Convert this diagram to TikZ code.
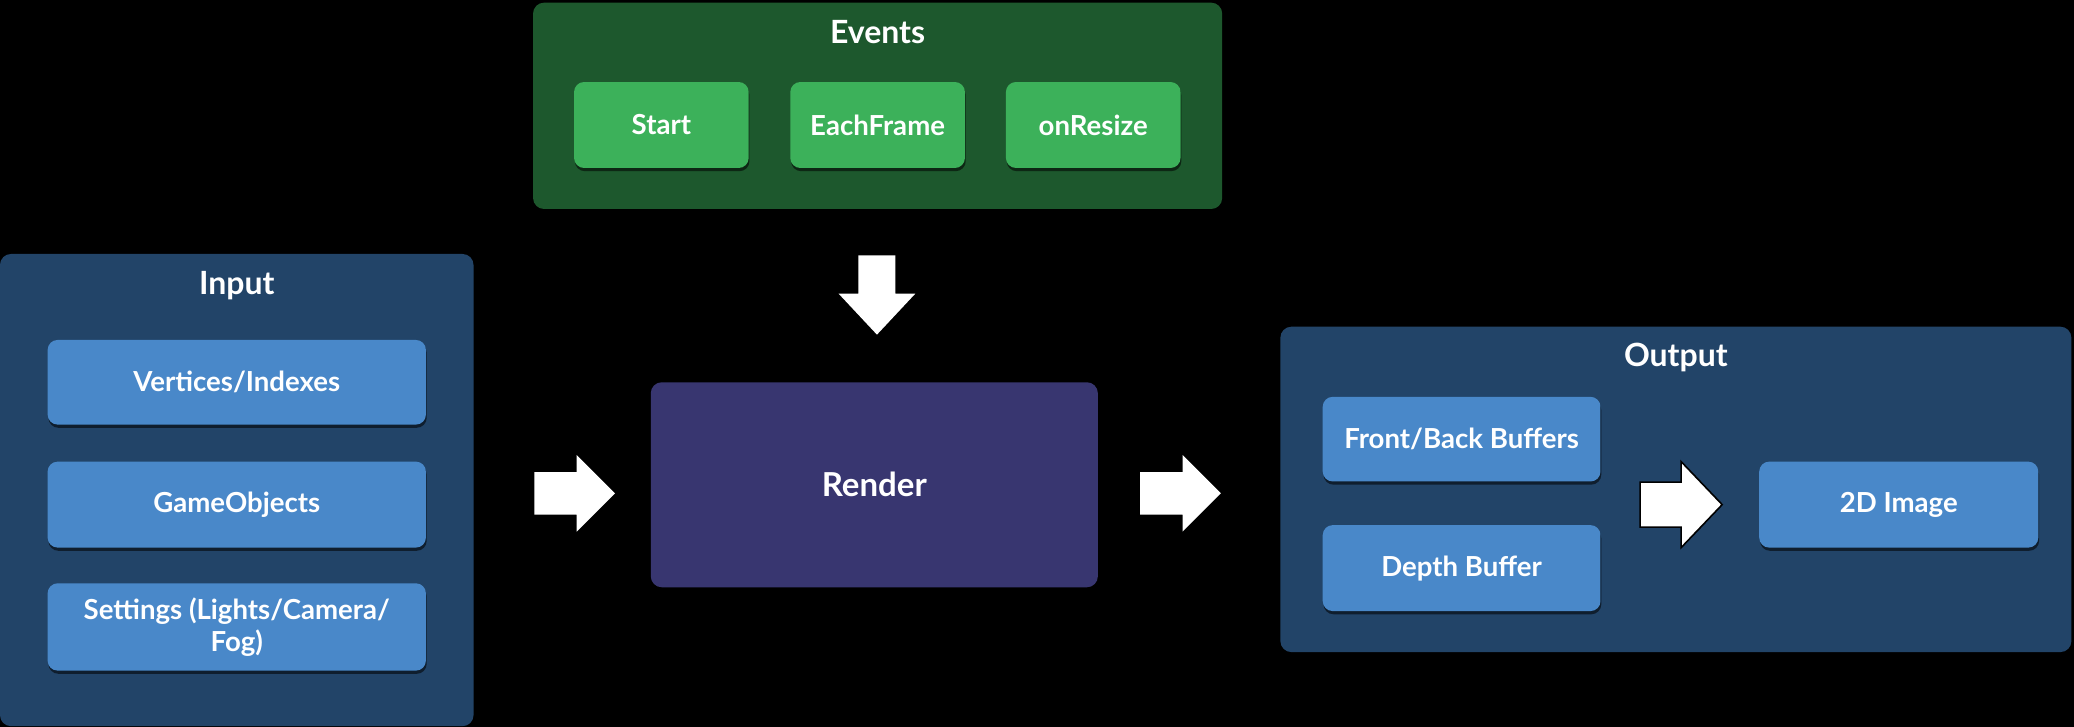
\documentclass[tikz,border=0pt]{standalone}
\usepackage{fontspec}
\setmainfont{Lato}
\usetikzlibrary{shadows}
\definecolor{evbg}{RGB}{29,88,45}
\definecolor{evbtn}{RGB}{60,177,90}
\definecolor{iobg}{RGB}{34,68,104}
\definecolor{iobtn}{RGB}{73,136,201}
\definecolor{rendbg}{RGB}{56,54,112}
\newcommand\blkarrow[8]{%
  \path[#1, shift={(#2,#3)}, rotate=#4]
    (0,-#7/2) -- (#5-#8,-#7/2) -- (#5-#8,-#6/2) -- (#5,0) -- (#5-#8,#6/2) -- (#5-#8,#7/2) -- (0,#7/2) -- cycle;}
\begin{document}
\def\u{0.6614pt}
\begin{tikzpicture}[x=0.6614pt,y=-0.6614pt,
  groupbox/.style={rectangle, rounded corners=5.5pt, inner sep=0pt},
  btn/.style={rectangle, rounded corners=5pt, inner sep=0pt, text=white, align=center,
    font=\fontsize{13.8}{16}\selectfont\bfseries,
    drop shadow={shadow xshift=0.4pt, shadow yshift=-1.6pt, opacity=0.55, fill=black}},
  title/.style={text=white, font=\fontsize{16}{19}\selectfont\bfseries, inner sep=0pt},
  blockarr/.style={fill=white}
]
\fill[black] (0,0) rectangle (1568,549.6);
\useasboundingbox (0,0) rectangle (1568,549.6);

% Events
\node[groupbox, fill=evbg, minimum width={521*\u}, minimum height={156*\u}] (events) at (663.5,80) {};
\node[title] (evtitle) at (663.5,24) {Events};
\node[btn, fill=evbtn, minimum width={132*\u}, minimum height={65*\u}] (start) at (500,94.5) {Start};
\node[btn, fill=evbtn, minimum width={132*\u}, minimum height={65*\u}] (eachframe) at (663.5,94.5) {EachFrame};
\node[btn, fill=evbtn, minimum width={132*\u}, minimum height={65*\u}] (onresize) at (826.5,94.5) {onResize};

% Input
\node[groupbox, fill=iobg, minimum width={358*\u}, minimum height={357*\u}] (input) at (179,370.5) {};
\node[title] (intitle) at (179,216) {Input};
\node[btn, fill=iobtn, minimum width={286*\u}, minimum height={64*\u}] (vert) at (179,289) {Vertices/Indexes};
\node[btn, fill=iobtn, minimum width={286*\u}, minimum height={65*\u}] (gobj) at (179,381.5) {GameObjects};
\node[btn, fill=iobtn, minimum width={286*\u}, minimum height={66*\u}] (sett) at (179,474) {Settings (Lights/Camera/\\Fog)};

% Render
\node[groupbox, fill=rendbg, minimum width={338*\u}, minimum height={155*\u}, text=white,
  font=\fontsize{16.5}{19}\selectfont\bfseries] (render) at (661,366.5) {Render};

% Output
\node[groupbox, fill=iobg, minimum width={598*\u}, minimum height={246*\u}] (output) at (1267,370) {};
\node[title] (outtitle) at (1267,270) {Output};
\node[btn, fill=iobtn, minimum width={210*\u}, minimum height={64*\u}] (fb) at (1105,332) {Front/Back Buffers};
\node[btn, fill=iobtn, minimum width={210*\u}, minimum height={65*\u}] (depth) at (1105,429.5) {Depth Buffer};
\node[btn, fill=iobtn, minimum width={211*\u}, minimum height={65*\u}] (img) at (1435.5,381.5) {2D Image};

% Block arrows
\blkarrow{blockarr}{663}{193}{-90}{60}{58}{28}{31}
\blkarrow{blockarr}{404}{373}{0}{61}{58}{32}{29}
\blkarrow{blockarr}{862}{373}{0}{61}{58}{32}{29}
\blkarrow{blockarr, draw=black, line width=0.8pt, line join=miter}{1240}{381.5}{0}{62}{65}{34}{31}
\end{tikzpicture}
\end{document}
